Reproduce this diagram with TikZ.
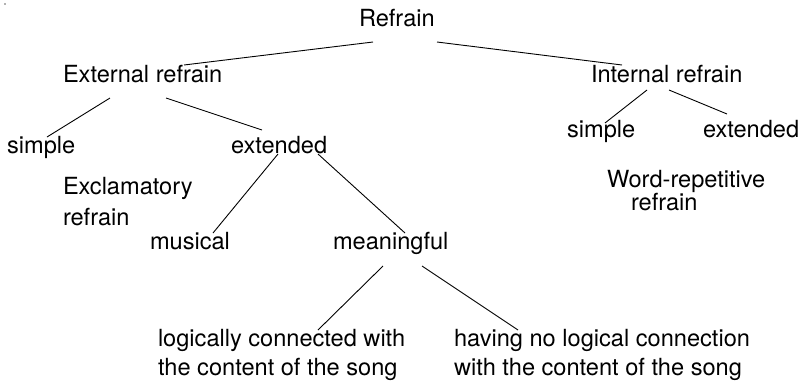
\documentclass[tikz,border=0pt]{standalone}
\usepackage{fontspec}
\setmainfont{TeX Gyre Heros}
\begin{document}
\begin{tikzpicture}[x=1pt,y=-1pt,
  lbl/.style={inner sep=0pt,outer sep=0pt,anchor=base west,font=\fontsize{23.6}{29.5}\selectfont},
  mlbl/.style={lbl,anchor=north west,align=left},
  branch/.style={draw=black,line width=0.9pt}]
\useasboundingbox (0,0) rectangle (802,384);
\fill[gray!60] (4,3) rectangle (6,5);
% nodes
\node[lbl] (root) at (359,26) {Refrain};
\node[lbl] (ext) at (63,82) {External refrain};
\node[lbl] (int) at (591,82) {Internal refrain};
\node[lbl] (es) at (7,153) {simple};
\node[lbl] (ee) at (231,153) {extended};
\node[mlbl,font=\fontsize{23.6}{31}\selectfont] (excl) at (63,177.5) {Exclamatory\\refrain};
\node[lbl] (mus) at (150,249) {musical};
\node[lbl] (mn) at (333,249) {meaningful};
\node[mlbl] (lc) at (158,329) {logically connected with\\the content of the song};
\node[mlbl] (hn) at (454,329) {having no logical connection\\with the content of the song};
\node[lbl] (is) at (567,137) {simple};
\node[lbl] (ie) at (703,137) {extended};
\node[mlbl,font=\fontsize{23.6}{21}\selectfont] (word) at (607,170) {Word-repetitive\\\hspace*{24pt}refrain};
% connectors
\draw[branch] ([shift={(14,16)}]root.base west) -- ([shift={(121,-17)}]ext.base west);
\draw[branch] ([shift={(78,16)}]root.base west) -- ([shift={(31,-17)}]int.base west);
\draw[branch] ([shift={(47,16)}]ext.base west) -- ([shift={(40,-16)}]es.base west);
\draw[branch] ([shift={(103,16)}]ext.base west) -- ([shift={(31,-23)}]ee.base west);
\draw[branch] ([shift={(47,1)}]ee.base west) -- ([shift={(63,-16)}]mus.base west);
\draw[branch] ([shift={(87,1)}]ee.base west) -- ([shift={(72,-16)}]mn.base west);
\draw[branch] ([shift={(50,17)}]mn.base west) -- ([shift={(160,1)}]lc.north west);
\draw[branch] ([shift={(89,17)}]mn.base west) -- ([shift={(64,1)}]hn.north west);
\draw[branch] ([shift={(56,8)}]int.base west) -- ([shift={(38,-14)}]is.base west);
\draw[branch] ([shift={(78,8)}]int.base west) -- ([shift={(24,-23)}]ie.base west);
\end{tikzpicture}
\end{document}
